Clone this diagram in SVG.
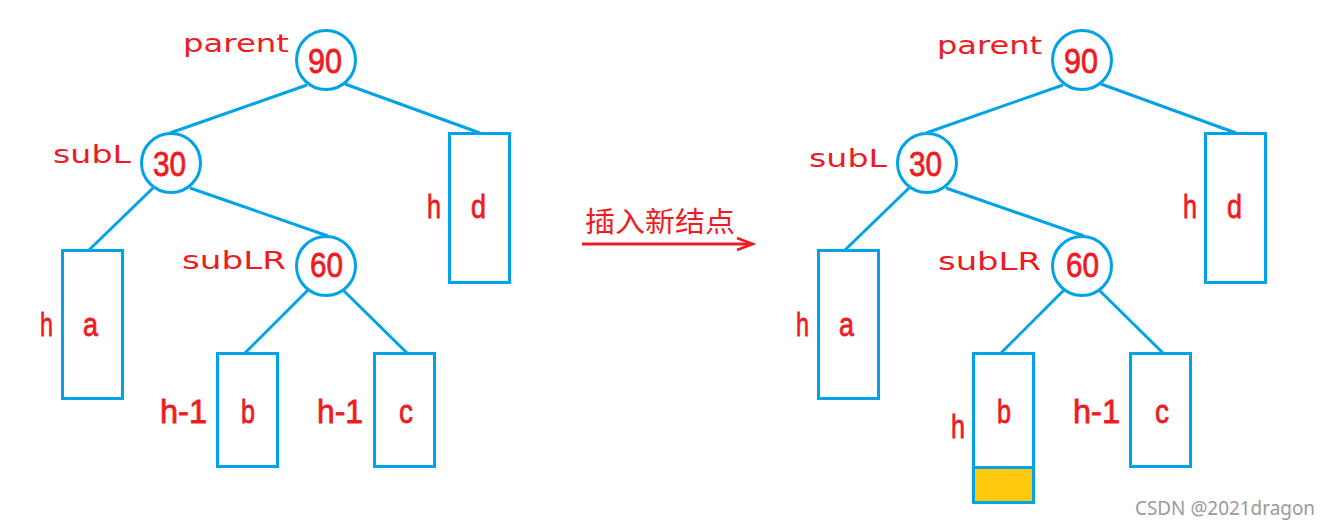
<svg xmlns="http://www.w3.org/2000/svg" width="1330" height="530" viewBox="0 0 1330 530">
<style>
.c{fill:#fff;stroke:#00A2E8;stroke-width:3}
.r{fill:#fff;stroke:#00A2E8;stroke-width:3}
.e{stroke:#00A2E8;stroke-width:3;fill:none}
.n{font-family:"Liberation Sans",Arial,sans-serif;font-size:35px;fill:#ED1C24;stroke:#ED1C24;stroke-width:0.8}
.t{font-family:"Liberation Sans",Arial,sans-serif;font-size:33px;fill:#ED1C24;stroke:#ED1C24;stroke-width:0.8}
.l{font-family:"DejaVu Sans",sans-serif;font-size:25px;fill:#ED1C24}
</style>
<rect width="1330" height="530" fill="#fff"/>
<g id="connectors">
<line class="e" x1="307" y1="85" x2="170" y2="133"/>
<line class="e" x1="345" y1="84" x2="480" y2="133"/>
<line class="e" x1="153" y1="188" x2="89" y2="250"/>
<line class="e" x1="190" y1="188" x2="328" y2="236"/>
<line class="e" x1="308" y1="290" x2="245" y2="353"/>
<line class="e" x1="343" y1="290" x2="407" y2="353"/>
<line class="e" x1="1063" y1="85" x2="926" y2="133"/>
<line class="e" x1="1101" y1="84" x2="1236" y2="133"/>
<line class="e" x1="909" y1="188" x2="845" y2="250"/>
<line class="e" x1="946" y1="188" x2="1084" y2="236"/>
<line class="e" x1="1064" y1="290" x2="1001" y2="353"/>
<line class="e" x1="1099" y1="290" x2="1163" y2="353"/>
</g>
<g id="L90"><circle class="c" cx="326" cy="60" r="29.5"/><text class="n" x="308" y="73" textLength="34" lengthAdjust="spacingAndGlyphs">90</text>
<text class="l" x="183" y="52" textLength="106" lengthAdjust="spacingAndGlyphs">parent</text></g>
<g id="L30"><circle class="c" cx="171" cy="163" r="29.5"/><text class="n" x="153" y="176" textLength="33" lengthAdjust="spacingAndGlyphs">30</text>
<text class="l" x="53" y="163" textLength="78" lengthAdjust="spacingAndGlyphs">subL</text></g>
<g id="L60"><circle class="c" cx="326" cy="266" r="29.5"/><text class="n" x="310" y="277" textLength="33" lengthAdjust="spacingAndGlyphs">60</text>
<text class="l" x="182" y="269" textLength="104" lengthAdjust="spacingAndGlyphs">subLR</text></g>
<g id="Ld"><rect class="r" x="449.5" y="133.5" width="60" height="149"/><text class="t" x="427" y="218" textLength="14" lengthAdjust="spacingAndGlyphs">h</text><text class="t" x="471" y="218" textLength="15" lengthAdjust="spacingAndGlyphs">d</text></g>
<g id="La"><rect class="r" x="62.5" y="250.5" width="60" height="148"/><text class="t" x="40" y="336" textLength="13" lengthAdjust="spacingAndGlyphs">h</text><text class="t" x="83" y="336" textLength="15" lengthAdjust="spacingAndGlyphs">a</text></g>
<g id="Lb"><rect class="r" x="217.5" y="353.5" width="60" height="113"/><text class="t" x="160" y="423" textLength="47" lengthAdjust="spacingAndGlyphs">h-1</text><text class="t" x="241" y="423" textLength="14" lengthAdjust="spacingAndGlyphs">b</text></g>
<g id="Lc"><rect class="r" x="374.5" y="353.5" width="60" height="113"/><text class="t" x="317" y="423" textLength="46" lengthAdjust="spacingAndGlyphs">h-1</text><text class="t" x="399" y="423" textLength="14" lengthAdjust="spacingAndGlyphs">c</text></g>
<g id="insert-arrow">
<text x="585" y="232" font-family="'Noto Sans CJK SC',sans-serif" font-size="28" fill="#ED1C24" textLength="150" lengthAdjust="spacingAndGlyphs">插入新结点</text>
<line x1="582" y1="244" x2="752" y2="244" stroke="#ED1C24" stroke-width="3"/>
<polyline points="737,238 753,244 737,250" fill="none" stroke="#ED1C24" stroke-width="2.5"/>
</g>
<g id="R90"><circle class="c" cx="1082" cy="60" r="29.5"/><text class="n" x="1064" y="73" textLength="34" lengthAdjust="spacingAndGlyphs">90</text>
<text class="l" x="937" y="54" textLength="105" lengthAdjust="spacingAndGlyphs">parent</text></g>
<g id="R30"><circle class="c" cx="927" cy="163" r="29.5"/><text class="n" x="909" y="176" textLength="33" lengthAdjust="spacingAndGlyphs">30</text>
<text class="l" x="809" y="167" textLength="78" lengthAdjust="spacingAndGlyphs">subL</text></g>
<g id="R60"><circle class="c" cx="1082" cy="266" r="29.5"/><text class="n" x="1066" y="277" textLength="33" lengthAdjust="spacingAndGlyphs">60</text>
<text class="l" x="938" y="270" textLength="103" lengthAdjust="spacingAndGlyphs">subLR</text></g>
<g id="Rd"><rect class="r" x="1205.5" y="133.5" width="60" height="149"/><text class="t" x="1183" y="218" textLength="14" lengthAdjust="spacingAndGlyphs">h</text><text class="t" x="1227" y="218" textLength="15" lengthAdjust="spacingAndGlyphs">d</text></g>
<g id="Ra"><rect class="r" x="818.5" y="250.5" width="60" height="148"/><text class="t" x="796" y="336" textLength="13" lengthAdjust="spacingAndGlyphs">h</text><text class="t" x="839" y="336" textLength="15" lengthAdjust="spacingAndGlyphs">a</text></g>
<g id="Rb"><rect class="r" x="973.5" y="353.5" width="60" height="149"/><rect x="975" y="467" width="57" height="34" fill="#FFC90E"/><line class="e" x1="973.5" y1="467.5" x2="1033.5" y2="467.5"/><text class="t" x="951" y="438" textLength="14" lengthAdjust="spacingAndGlyphs">h</text><text class="t" x="997" y="423" textLength="14" lengthAdjust="spacingAndGlyphs">b</text></g>
<g id="Rc"><rect class="r" x="1130.5" y="353.5" width="60" height="113"/><text class="t" x="1073" y="423" textLength="47" lengthAdjust="spacingAndGlyphs">h-1</text><text class="t" x="1155" y="423" textLength="14" lengthAdjust="spacingAndGlyphs">c</text></g>
<text x="1135" y="515" font-family="'Noto Sans',sans-serif" font-size="19" fill="#9a9a9a" textLength="180" lengthAdjust="spacingAndGlyphs">CSDN @2021dragon</text>
</svg>
